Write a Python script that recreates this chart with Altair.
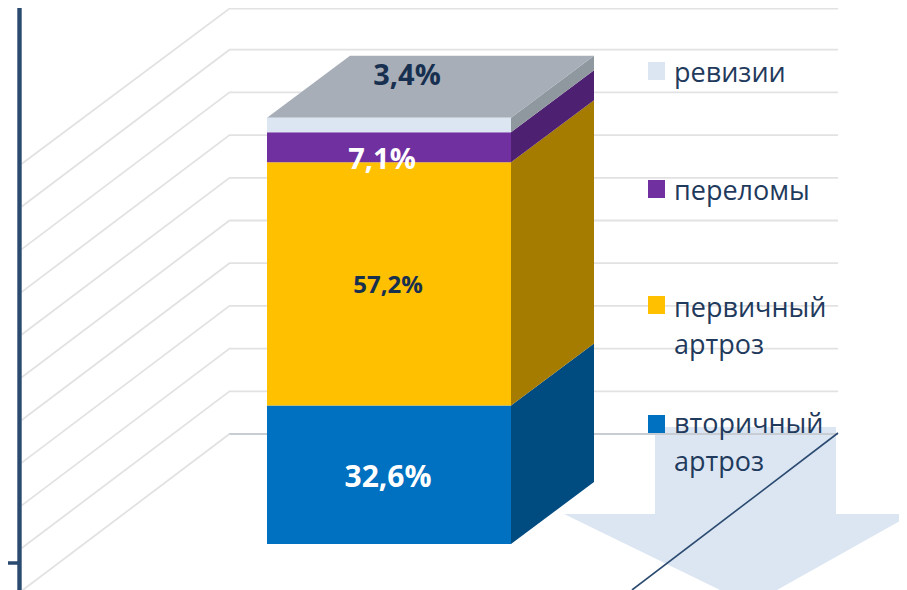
import altair as alt
import pandas as pd

# --- chart values -------------------------------------------------------
categories = ["вторичный артроз", "первичный артроз", "переломы", "ревизии"]
values = [32.6, 57.2, 7.1, 3.4]
value_labels = ["32,6%", "57,2%", "7,1%", "3,4%"]
front_colors = ["#0070C0", "#FFC000", "#7030A0", "#DCE6F2"]
side_colors = ["#004B80", "#A67C00", "#4D2071", "#8F979F"]
top_color = "#A7AEB8"
grid_ticks = [0, 10, 20, 30, 40, 50, 60, 70, 80, 90, 100]

# --- projection of the 3-D column (page pixels) ---------------------------
PX_PER_PCT = 4.25
BASE_Y = 544
BAR_L, BAR_R = 267, 511
DX, DY = 83, 62
PAGE_R = 899  # the drawable page area ends here


def v(page_y):
    """Page y expressed in value units of the y scale."""
    return (BASE_Y - page_y) / PX_PER_PCT


depth = DY / PX_PER_PCT
xs = alt.X("x:Q", axis=None, scale=alt.Scale(domain=[8, PAGE_R], range=[0, PAGE_R - 8], nice=False, zero=False))
ys = alt.Y("y:Q", axis=None, scale=alt.Scale(domain=[v(590), v(8)], range=[582, 0], nice=False, zero=False))

# stacked segments
front, sides = [], []
acc = 0.0
for i, val in enumerate(values):
    lo, hi = acc, acc + val
    front.append({"x": BAR_L, "x2": BAR_R, "y": lo, "y2": hi, "fill": front_colors[i]})
    sides.append({"g": i, "x": BAR_R, "y": lo, "y2": hi, "fill": side_colors[i]})
    sides.append({"g": i, "x": BAR_R + DX, "y": lo + depth, "y2": hi + depth, "fill": side_colors[i]})
    acc = hi
total = acc

top_face = [
    {"x": BAR_L, "y": total, "y2": total},
    {"x": BAR_L + DX, "y": total, "y2": total + depth},
    {"x": BAR_R, "y": total, "y2": total + depth},
    {"x": BAR_R + DX, "y": total + depth, "y2": total + depth},
]

# gridlines: wall back plane plus slanted side wall
grid_rows = []
for t in grid_ticks:
    py = 434 - t * 4.27
    for gx, gy in [(21.5, py + 157), (229.5, max(py, 8.6)), (838, max(py, 8.6))]:
        grid_rows.append({"g": t, "x": gx, "y": v(gy)})

arrow_stem = alt.Chart(pd.DataFrame([{"x": 655, "x2": 836, "y": v(514), "y2": v(427)}])).mark_rect(
    color="#DCE6F2"
).encode(x=xs, x2="x2:Q", y=ys, y2="y2:Q")
arrow_head = alt.Chart(pd.DataFrame([
    {"x": 564, "y": v(514), "y2": v(514)},
    {"x": 720, "y": v(590), "y2": v(514)},
    {"x": 777, "y": v(590), "y2": v(514)},
    {"x": PAGE_R, "y": v(521.5), "y2": v(514)},
])).mark_area(color="#DCE6F2").encode(x=xs, y=ys, y2="y2:Q")

grid = alt.Chart(pd.DataFrame(grid_rows)).mark_line(color="#E2E2E2", strokeWidth=1.8).encode(
    x=xs, y=ys, detail="g:N"
)
grid_zero = alt.Chart(pd.DataFrame([{"x": 229.5, "y": v(434)}, {"x": 838, "y": v(434)}])).mark_line(
    color="#BFC6CE", strokeWidth=1.6
).encode(x=xs, y=ys)

left_rule = alt.Chart(pd.DataFrame([{"x": 19.5, "y": v(0), "y2": v(590)}])).mark_rule(
    color="#2B4A70", strokeWidth=4.4
).encode(x=xs, y=ys, y2="y2:Q")
left_tick = alt.Chart(pd.DataFrame([{"x": 8, "x2": 18, "y": v(563)}])).mark_rule(
    color="#2B4A70", strokeWidth=3.5
).encode(x=xs, x2="x2:Q", y=ys)
diagonal = alt.Chart(pd.DataFrame([{"x": 632, "y": v(590)}, {"x": 838, "y": v(433)}])).mark_line(
    color="#2B4A70", strokeWidth=1.6
).encode(x=xs, y=ys)

side_layer = alt.Chart(pd.DataFrame(sides)).mark_area(opacity=1).encode(
    x=xs, y=ys, y2="y2:Q", color=alt.Color("fill:N", scale=None), detail="g:N"
)
top_layer = alt.Chart(pd.DataFrame(top_face)).mark_area(color=top_color).encode(x=xs, y=ys, y2="y2:Q")
front_layer = alt.Chart(pd.DataFrame(front)).mark_rect().encode(
    x=xs, x2="x2:Q", y=ys, y2="y2:Q", color=alt.Color("fill:N", scale=None)
)

# value labels
DARK = "#17304F"
label_rows = [
    {"x": 388, "y": v(478), "t": value_labels[0], "c": "#FFFFFF", "s": 30},
    {"x": 388, "y": v(286), "t": value_labels[1], "c": DARK, "s": 24},
    {"x": 382, "y": v(160), "t": value_labels[2], "c": "#FFFFFF", "s": 29},
    {"x": 407, "y": v(76), "t": value_labels[3], "c": DARK, "s": 29},
]
val_text = alt.Chart(pd.DataFrame(label_rows)).mark_text(
    font="Open Sans", fontWeight="bold", baseline="middle", align="center"
).encode(
    x=xs, y=ys, text="t:N", color=alt.Color("c:N", scale=None), size=alt.Size("s:Q", scale=None)
)

# legend drawn by hand, as in the source slide
leg_rects = pd.DataFrame([
    {"x": 648, "x2": 665, "y": v(433), "y2": v(415), "fill": front_colors[0]},
    {"x": 648, "x2": 665, "y": v(314), "y2": v(296), "fill": front_colors[1]},
    {"x": 648, "x2": 665, "y": v(198), "y2": v(180), "fill": front_colors[2]},
    {"x": 648, "x2": 665, "y": v(80), "y2": v(62), "fill": front_colors[3]},
])
leg_layer = alt.Chart(leg_rects).mark_rect().encode(
    x=xs, x2="x2:Q", y=ys, y2="y2:Q", color=alt.Color("fill:N", scale=None)
)
leg_text_rows = [
    {"x": 674, "y": v(425), "t": "вторичный"},
    {"x": 674, "y": v(463), "t": "артроз"},
    {"x": 674, "y": v(309), "t": "первичный"},
    {"x": 674, "y": v(346), "t": "артроз"},
    {"x": 674, "y": v(192), "t": "переломы"},
    {"x": 674, "y": v(74), "t": "ревизии"},
]
leg_text = alt.Chart(pd.DataFrame(leg_text_rows)).mark_text(
    font="Open Sans", fontSize=27, color="#1F3A5C", align="left", baseline="middle"
).encode(x=xs, y=ys, text="t:N")

chart = alt.layer(
    arrow_stem, arrow_head, grid, grid_zero, left_rule, left_tick,
    side_layer, top_layer, front_layer, val_text, leg_layer, leg_text, diagonal,
).properties(
    width=PAGE_R - 8, height=582, padding=0, autosize=alt.AutoSizeParams(type="none"),
    background="#FFFFFF",
).configure_view(stroke=None)

chart.save("out.html", embed_options={"renderer": "svg", "actions": False})
